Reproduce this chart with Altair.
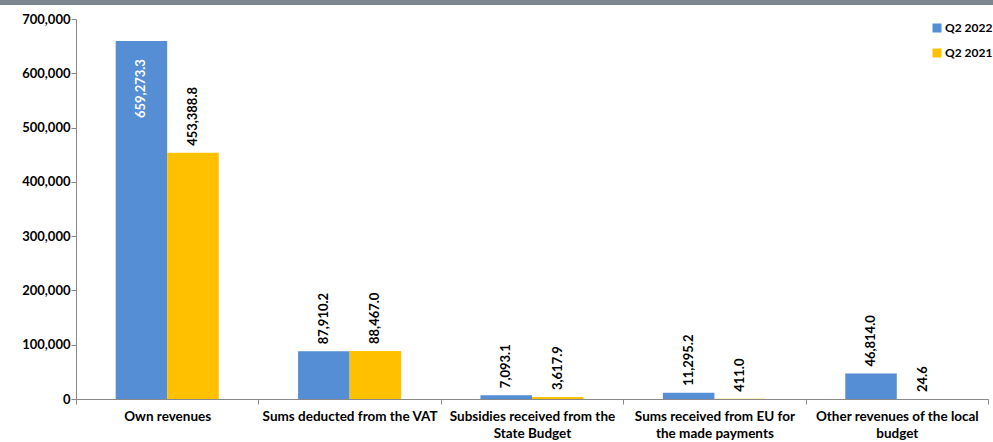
import altair as alt
import pandas as pd

categories = ["Own revenues", "Sums deducted from the VAT", "Subsidies received from the State Budget",
              "Sums received from EU for the made payments", "Other revenues of the local budget"]
label_lines = [["Own revenues"], ["Sums deducted from the VAT"], ["Subsidies received from the", "State Budget"],
               ["Sums received from EU for", "the made payments"], ["Other revenues of the local", "budget"]]
series = ["Q2 2022", "Q2 2021"]
q2_2022 = [659273.3, 87910.2, 7093.1, 11295.2, 46814.0]
q2_2021 = [453388.8, 88467.0, 3617.9, 411.0, 24.6]
colors = ["#558ED5", "#FFC000"]

rows = []
for c, a, b in zip(categories, q2_2022, q2_2021):
    rows.append({"cat": c, "series": series[0], "value": a})
    rows.append({"cat": c, "series": series[1], "value": b})
df = pd.DataFrame(rows)
df["inside"] = df["value"] > 600000

expr = ""
for c, l in zip(categories, label_lines):
    arr = "[" + ",".join("'" + s + "'" for s in l) + "]"
    expr += f"datum.value == '{c}' ? {arr} : "
expr += "datum.value"

FONT = "Lato"
x = alt.X("cat:N", sort=categories, title=None,
          scale=alt.Scale(paddingInner=0, paddingOuter=0),
          axis=alt.Axis(labelExpr=expr, labelAngle=0, labelFont=FONT, labelFontWeight="bold",
                        labelFontSize=13.5, labelColor="#000000", tickBand="extent", tickSize=5,
                        tickColor="#888888", domainColor="#888888", labelPadding=5,
                        labelBaseline="top", labelLineHeight=17))
xoff = alt.XOffset("series:N", sort=series, scale=alt.Scale(paddingInner=0, paddingOuter=0.77))
y = alt.Y("value:Q", title=None, scale=alt.Scale(domain=[0, 700000]),
          axis=alt.Axis(values=list(range(0, 700001, 100000)), format=",d", labelFont=FONT,
                        labelFontWeight="bold", labelFontSize=13, labelColor="#000000",
                        grid=False, tickSize=5, tickColor="#888888", domainColor="#888888",
                        labelPadding=1))

base = alt.Chart(df)
bars = base.mark_bar().encode(
    x=x, xOffset=xoff, y=y,
    color=alt.Color("series:N", sort=series, scale=alt.Scale(domain=series, range=colors),
                    legend=alt.Legend(title=None, orient="none", legendX=855, legendY=3,
                                      padding=0, symbolType="square", symbolSize=81,
                                      symbolStrokeWidth=0, labelFont=FONT, labelFontWeight="bold",
                                      labelFontSize=12, labelColor="#000000", rowPadding=13,
                                      labelOffset=2))
)
txt_out = base.transform_filter("!datum.inside").mark_text(
    angle=270, align="left", baseline="middle", dx=7, font=FONT, fontWeight="bold",
    fontSize=13, color="#000000").encode(
    x=x, xOffset=xoff, y=y, text=alt.Text("value:Q", format=",.1f"))
txt_in = base.transform_filter("datum.inside").mark_text(
    angle=270, align="right", baseline="middle", dx=-18, font=FONT, fontWeight="bold",
    fontSize=13, color="#FFFFFF").encode(
    x=x, xOffset=xoff, y=y, text=alt.Text("value:Q", format=",.1f"))

topbar = alt.Chart(alt.Data(values=[{"a": 1}])).mark_rect(color="#7B868F").encode(
    x=alt.value(-80), x2=alt.value(1000), y=alt.value(-20), y2=alt.value(-14))

chart = alt.layer(topbar, bars, txt_out, txt_in).properties(
    width=912, height=380,
    autosize=alt.AutoSizeParams(type="none"),
    padding={"left": 76, "top": 19, "right": 5, "bottom": 43},
    background="#FFFFFF"
).configure_view(stroke=None)

chart.save("out.html", embed_options={"renderer": "svg", "actions": False})
